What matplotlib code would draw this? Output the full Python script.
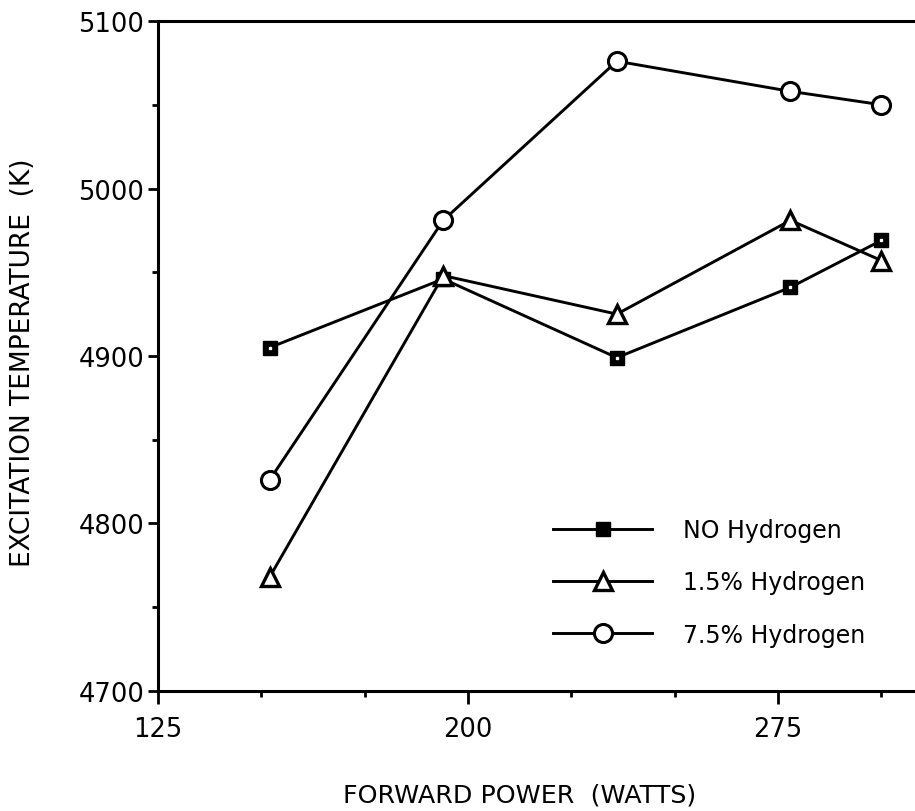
import matplotlib
matplotlib.use("Agg")
import matplotlib.pyplot as plt
from matplotlib.ticker import MultipleLocator, FixedLocator

# forward power (watts) and excitation temperature (K) per hydrogen content
power = [152, 194, 236, 278, 300]
temp_no_h = [4905, 4946, 4899, 4941, 4969]
temp_15_h = [4768, 4948, 4925, 4981, 4957]
temp_75_h = [4826, 4981, 5076, 5058, 5050]

x_ticks = [125, 200, 275]
y_ticks = [4700, 4800, 4900, 5000, 5100]

plt.rcParams['font.family'] = ['DejaVu Sans']

fig = plt.figure(figsize=(9.15, 8.12), dpi=100)
# axes run past the right edge of the figure, so the right spine is cut off
ax = fig.add_axes([0.1727, 0.1478, 0.9035, 0.8251])

lw = 2.1
ax.plot(power, temp_no_h, color="black", lw=lw, marker="s", ms=10,
        mfc="black", mec="black", label="NO Hydrogen", zorder=3)
ax.plot(power, temp_no_h, ls="none", marker="s", ms=1.5, mfc="white",
        mec="white", zorder=4)
ax.plot(power, temp_15_h, color="black", lw=lw, marker="^", ms=12.5,
        mfc="white", mec="black", mew=2.4, label="1.5% Hydrogen", zorder=3)
ax.plot(power, temp_75_h, color="black", lw=lw, marker="o", ms=13,
        mfc="white", mec="black", mew=2.2, label="7.5% Hydrogen", zorder=3)

ax.set_xlim(125, 325)
ax.set_ylim(4700, 5100)
ax.xaxis.set_major_locator(FixedLocator(x_ticks))
ax.xaxis.set_minor_locator(MultipleLocator(25))
ax.yaxis.set_major_locator(FixedLocator(y_ticks))
ax.yaxis.set_minor_locator(MultipleLocator(50))

for side in ["left", "bottom", "top", "right"]:
    ax.spines[side].set_linewidth(2.2)

ax.tick_params(axis="both", which="major", direction="out", width=2,
               labelsize=18.5, color="black")
ax.tick_params(axis="x", which="major", length=9, pad=9)
ax.tick_params(axis="y", which="major", length=7, pad=3)
ax.tick_params(axis="both", which="minor", direction="out", length=4,
               width=2)

ax.set_xlabel("FORWARD POWER  (WATTS)", fontsize=18.3)
ax.set_ylabel("EXCITATION TEMPERATURE  (K)", fontsize=19)
ax.xaxis.set_label_coords(0.438, -0.136)
ax.yaxis.set_label_coords(-0.148, 0.491)

leg = ax.legend(loc="upper left", bbox_to_anchor=(553 / 915, 1 - 519 / 812),
                bbox_transform=fig.transFigure, frameon=False, fontsize=17,
                handlelength=4.2, handletextpad=1.3, labelspacing=1.2,
                borderpad=0, borderaxespad=0)

fig.savefig("out.png", dpi=100)
